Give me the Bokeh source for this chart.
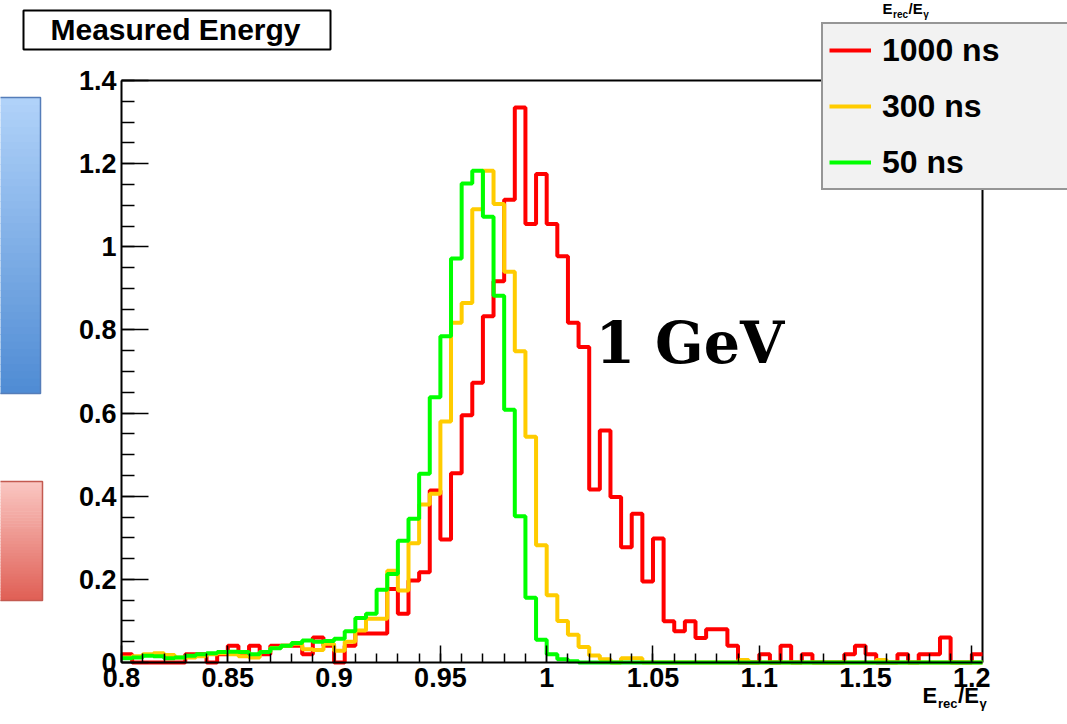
from bokeh.plotting import figure
from bokeh.models import (Range1d, FixedTicker, Label, BoxAnnotation, Legend,
                          LegendItem)
from bokeh.embed import file_html
from bokeh.resources import INLINE

# ---------------- data ----------------
bin_lo = 0.8
bin_width = 0.005
n_bins = 81

red_1000ns = [0.02, 0.0, 0.0, 0.0, 0.0, 0.0, 0.02, 0.02, 0.0, 0.02,
              0.04, 0.02, 0.04, 0.02, 0.04, 0.04, 0.04, 0.02, 0.06, 0.04,
              0.0, 0.04, 0.07, 0.07, 0.07, 0.177, 0.117, 0.197, 0.217, 0.414,
              0.296, 0.455, 0.595, 0.673, 0.833, 0.917, 1.113, 1.335, 1.055, 1.175,
              1.055, 0.977, 0.817, 0.759, 0.416, 0.558, 0.398, 0.277, 0.358, 0.195,
              0.298, 0.099, 0.075, 0.099, 0.059, 0.08, 0.08, 0.04, 0.0, 0.0,
              0.02, 0.0, 0.04, 0.0, 0.02, 0.0, 0.0, 0.0, 0.02, 0.04,
              0.02, 0.0, 0.0, 0.02, 0.0, 0.02, 0.02, 0.06, 0.0, 0.0,
              0.02]
yellow_300ns = [0.012, 0.015, 0.02, 0.022, 0.018, 0.012, 0.012, 0.015, 0.02, 0.022,
                0.02, 0.015, 0.012, 0.025, 0.035, 0.04, 0.045, 0.032, 0.03, 0.045,
                0.028, 0.05, 0.077, 0.105, 0.105, 0.221, 0.173, 0.287, 0.38, 0.406,
                0.58, 0.817, 0.865, 1.09, 1.183, 1.103, 0.94, 0.749, 0.543, 0.282,
                0.162, 0.1, 0.067, 0.037, 0.017, 0.008, 0.0, 0.01, 0.01, 0.0,
                0.0, 0.0, 0.0, 0.0, 0.0, 0.0, 0.0, 0.0, 0.006, 0.0,
                0.0, 0.0, 0.0, 0.0, 0.0, 0.0, 0.0, 0.0, 0.0, 0.0,
                0.0, 0.006, 0.0, 0.0, 0.0, 0.0, 0.0, 0.0, 0.0, 0.0,
                0.0]
green_50ns = [0.01, 0.012, 0.016, 0.015, 0.01, 0.012, 0.016, 0.02, 0.022, 0.025,
              0.026, 0.025, 0.02, 0.025, 0.034, 0.04, 0.047, 0.053, 0.05, 0.052,
              0.057, 0.075, 0.107, 0.117, 0.175, 0.213, 0.293, 0.346, 0.454, 0.638,
              0.785, 0.972, 1.152, 1.183, 1.072, 0.882, 0.608, 0.352, 0.156, 0.055,
              0.02, 0.008, 0.003, 0.0, 0.0, 0.0, 0.0, 0.0, 0.0, 0.0,
              0.0, 0.0, 0.0, 0.0, 0.0, 0.0, 0.0, 0.0, 0.0, 0.0,
              0.0, 0.0, 0.0, 0.0, 0.0, 0.0, 0.0, 0.0, 0.0, 0.0,
              0.0, 0.0, 0.0, 0.0, 0.0, 0.0, 0.0, 0.0, 0.0, 0.0,
              0.0]

series_labels = ["1000 ns", "300 ns", "50 ns"]
series_colors = ["#ff0000", "#ffcc00", "#00ff00"]

x_ticks = [0.8, 0.85, 0.9, 0.95, 1.0, 1.05, 1.1, 1.15, 1.2]
x_tick_labels = ["0.8", "0.85", "0.9", "0.95", "1", "1.05", "1.1", "1.15", "1.2"]
y_ticks = [0, 0.2, 0.4, 0.6, 0.8, 1.0, 1.2, 1.4]
y_tick_labels = ["0", "0.2", "0.4", "0.6", "0.8", "1", "1.2", "1.4"]

title_text = "Measured Energy"
energy_text = "1 GeV"

# ---------------- layout ----------------
W, H = 1067, 724
FL, FR, FT, FB = 121, 982, 80, 662      # data-frame box on the page (px)
X0, X1 = 0.8, 1.205
Y0, Y1 = 0.0, 1.4
KX = (X1 - X0) / (FR - FL)
KY = (Y1 - Y0) / (FB - FT)


def cx(px):
    return X0 + (px - FL) * KX


def cy(py):
    return Y0 + (FB - py) * KY


FONT = "Liberation Sans"

p = figure(width=W, height=H, output_backend="svg", toolbar_location=None,
           x_range=Range1d(cx(0), cx(W)), y_range=Range1d(cy(H), cy(0)),
           min_border=0, min_border_left=0, min_border_right=0,
           min_border_top=0, min_border_bottom=0)
p.background_fill_color = "white"
p.border_fill_color = "white"
p.outline_line_color = None
p.xgrid.visible = False
p.ygrid.visible = False

p.xaxis.fixed_location = Y0
p.xaxis.bounds = (X0, X1)
p.yaxis.fixed_location = X0
p.yaxis.bounds = (Y0, Y1)

p.xaxis.ticker = FixedTicker(
    ticks=x_ticks,
    minor_ticks=[round(0.8 + 0.01 * i, 3) for i in range(41)])
p.xaxis.major_label_overrides = dict(zip(x_ticks, x_tick_labels))
p.yaxis.ticker = FixedTicker(
    ticks=y_ticks,
    minor_ticks=[round(0.05 * i, 3) for i in range(29)])
p.yaxis.major_label_overrides = dict(zip(y_ticks, y_tick_labels))

for ax in (p.xaxis, p.yaxis):
    ax.axis_line_width = 2
    ax.axis_line_color = "black"
    ax.major_tick_out = 0
    ax.minor_tick_out = 0
    ax.major_tick_line_color = "black"
    ax.minor_tick_line_color = "black"
    ax.major_tick_line_width = 1.5
    ax.minor_tick_line_width = 1.5
    ax.major_label_text_font = FONT
    ax.major_label_text_font_style = "bold"
    ax.major_label_text_font_size = "27px"
    ax.major_label_text_color = "black"
p.xaxis.major_tick_in = 17
p.xaxis.minor_tick_in = 9
p.yaxis.major_tick_in = 27
p.yaxis.minor_tick_in = 13
p.xaxis.major_label_standoff = 5
p.yaxis.major_label_standoff = 5

# frame top / right edges
p.line(x=[X0, X1, X1], y=[Y1, Y1, Y0], line_color="black", line_width=2)

edges = [round(bin_lo + i * bin_width, 4) for i in range(n_bins + 1)]
renderers = []
for vals, col in zip([red_1000ns, yellow_300ns, green_50ns], series_colors):
    r = p.step(x=edges, y=vals + [vals[-1]], mode="after",
               line_color=col, line_width=4)
    renderers.append(r)

legend = Legend(items=[LegendItem(label=lab, renderers=[r])
                       for lab, r in zip(series_labels, renderers)],
                location=(821, H - 190))
legend.background_fill_color = "#f2f2f2"
legend.background_fill_alpha = 1.0
legend.border_line_color = "#3a3a3a"
legend.border_line_width = 2
legend.label_text_font = FONT
legend.label_text_font_style = "bold"
legend.label_text_font_size = "32px"
legend.label_text_color = "black"
legend.glyph_width = 42
legend.glyph_height = 40
legend.label_height = 40
legend.label_width = 200
legend.label_standoff = 11
legend.spacing = 16
legend.padding = 6
legend.margin = 0
p.add_layout(legend)

# title box
p.add_layout(BoxAnnotation(left=cx(23), right=cx(330), top=cy(10), bottom=cy(49),
                           fill_color="white", fill_alpha=1.0,
                           line_color="black", line_alpha=1.0, line_width=2))
p.add_layout(Label(x=cx(175), y=cy(29), text=title_text, text_align="center",
                   text_baseline="middle", text_font=FONT, text_font_style="bold",
                   text_font_size="30px", text_color="black"))


# left decorative slide boxes (vertical colour gradients)
def grad_box(x0, x1, y0, y1, c_top, c_bot, c_line, n=40):
    h = (y1 - y0) / n
    for k in range(n):
        t = k / (n - 1)
        c = tuple(int(round(a + (b - a) * t)) for a, b in zip(c_top, c_bot))
        p.add_layout(BoxAnnotation(left=cx(x0 - 5), right=cx(x1),
                                   top=cy(y0 + k * h),
                                   bottom=cy(y0 + (k + 1) * h + 0.6),
                                   fill_color="#%02x%02x%02x" % c, fill_alpha=1.0,
                                   line_alpha=0))
    p.add_layout(BoxAnnotation(left=cx(x0 - 5), right=cx(x1), top=cy(y0), bottom=cy(y1),
                               fill_alpha=0, line_color=c_line, line_alpha=1.0,
                               line_width=1.5))


grad_box(0, 40, 97, 393, (176, 210, 249), (80, 140, 212), (85, 125, 185))
grad_box(0, 42, 481, 600, (250, 198, 193), (224, 96, 86), (195, 90, 80))

# energy label
p.add_layout(Label(x=cx(595), y=cy(342), text=energy_text, text_align="left",
                   text_baseline="middle", text_font="DejaVu Serif",
                   text_font_style="bold", text_font_size="57px", text_color="black"))


# axis title  E_rec / E_gamma
def axis_title(x0, ymid, big, small):
    b = float(big)
    s = float(small)
    parts = [("E", 0.0, 0.0, big), ("rec", 0.70 * b, 0.38 * b, small),
             ("/E", 0.70 * b + 1.55 * s, 0.0, big),
             ("\u03b3", 0.70 * b + 1.55 * s + 0.98 * b, 0.38 * b, small)]
    for txt, dx, dy, fs in parts:
        p.add_layout(Label(x=cx(x0 + dx), y=cy(ymid + dy), text=txt,
                           text_align="left", text_baseline="middle",
                           text_font=FONT, text_font_style="bold",
                           text_font_size="%dpx" % fs, text_color="black"))


axis_title(922, 695, 22, 13)
axis_title(882, 8, 15, 10)

open("out.html", "w").write(file_html(p, INLINE))
